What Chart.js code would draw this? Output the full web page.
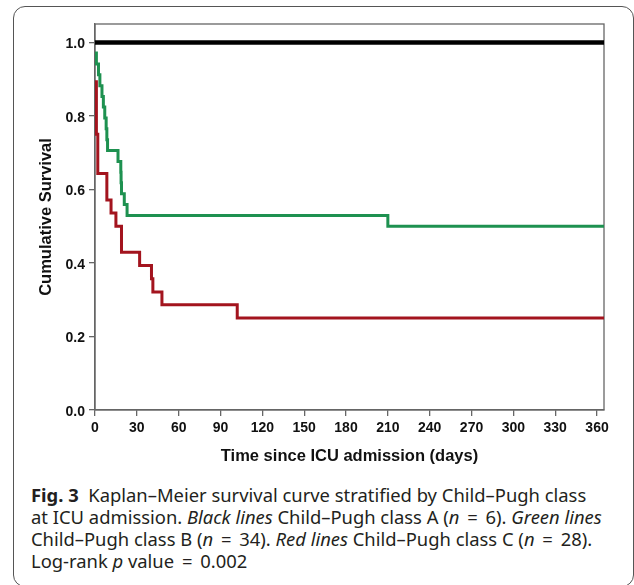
<!DOCTYPE html>
<html>
<head>
<meta charset="utf-8">
<script src="https://cdn.jsdelivr.net/npm/chart.js@4"></script>
<style>
  body { margin: 0; background: #fff; }
  #wrap { position: relative; width: 634px; height: 585px; overflow: hidden; background: #fff; }
  #box { position: absolute; left: 13px; top: 6px; width: 619px; height: 579px; border: 1px solid #555; border-radius: 12px; }
  #chartBox { position: absolute; left: 0; top: 0; width: 634px; height: 470px; }
  #caption { position: absolute; left: 31px; top: 484px; font-family: "Noto Sans", sans-serif; font-size: 18.4px; line-height: 22px; color: #231f20; white-space: nowrap; }
  #caption .eq { margin: 0 3px; }
</style>
</head>
<body>
<div id="wrap">
  <div id="box"></div>
  <div id="chartBox"><canvas id="kmChart" width="634" height="470"></canvas></div>
  <div id="caption">
    <b>Fig. 3</b>&nbsp; Kaplan–Meier survival curve stratified by Child–Pugh class<br>
    at ICU admission. <i>Black lines</i> Child–Pugh class A (<i>n</i> <span class="eq">=</span> 6). <i>Green lines</i><br>
    Child–Pugh class B (<i>n</i> <span class="eq">=</span> 34). <i>Red lines</i> Child–Pugh class C (<i>n</i> <span class="eq">=</span> 28).<br>
    Log-rank <i>p</i> value <span class="eq">=</span> 0.002
  </div>
</div>
<script>
// tick labels
const xTicks = [0, 30, 60, 90, 120, 150, 180, 210, 240, 270, 300, 330, 360];
const yTicks = [0, 0.2, 0.4, 0.6, 0.8, 1.0];

// Child-Pugh A (black)
const blackTimes = [0, 365];
const blackSurv = [1.0, 1.0];

// Child-Pugh B (green)
const greenTimes = [0, 1, 2.5, 3.5, 5, 6, 7, 8, 8.5, 9, 16.5, 18.5, 18.7, 19, 21, 23, 210, 365];
const greenSurv = [0.971, 0.941, 0.912, 0.882, 0.853, 0.824, 0.794, 0.765, 0.735, 0.706, 0.676, 0.647, 0.618, 0.588, 0.559, 0.529, 0.5, 0.5];

// Child-Pugh C (red)
const redTimes = [0, 1, 2, 8.5, 11.5, 15, 19, 32, 40.5, 41.5, 48, 102, 365];
const redSurv = [0.893, 0.75, 0.643, 0.571, 0.536, 0.5, 0.429, 0.393, 0.357, 0.321, 0.286, 0.25, 0.25];

function toPoints(t, s) {
  return t.map((x, i) => ({ x: x, y: s[i] }));
}

const axisColor = '#666';
const tickFont = { family: 'Liberation Sans', size: 14, weight: 'bold' };
const titleFont = { family: 'Liberation Sans', size: 16.5, weight: 'bold' };

// box round the plot area
const framePlugin = {
  id: 'frame',
  beforeDatasetsDraw(chart) {
    const a = chart.chartArea;
    const ctx = chart.ctx;
    ctx.save();
    ctx.strokeStyle = axisColor;
    ctx.lineWidth = 1.3;
    ctx.strokeRect(a.left, a.top, a.right - a.left, a.bottom - a.top);
    ctx.restore();
  }
};

const kmChart = new Chart(document.getElementById('kmChart').getContext('2d'), {
  type: 'line',
  data: {
    datasets: [
      { label: 'A', data: toPoints(blackTimes, blackSurv), borderColor: '#000', borderWidth: 4.5 },
      { label: 'B', data: toPoints(greenTimes, greenSurv), borderColor: '#1e9150', borderWidth: 3 },
      { label: 'C', data: toPoints(redTimes, redSurv), borderColor: '#a3141e', borderWidth: 3 }
    ].map(d => Object.assign(d, { stepped: 'before', pointRadius: 0, fill: false, tension: 0 }))
  },
  options: {
    responsive: false,
    animation: false,
    devicePixelRatio: 1,
    layout: { padding: { top: 24, right: 30, left: 0, bottom: 0 } },
    plugins: { legend: { display: false }, tooltip: { enabled: false } },
    scales: {
      x: {
        type: 'linear',
        min: 0,
        max: 365,
        afterBuildTicks: s => { s.ticks = xTicks.map(v => ({ value: v })); },
        afterFit: s => { s.height = 60; },
        ticks: { font: tickFont, color: '#111', padding: 4, maxRotation: 0, autoSkip: false },
        grid: { drawOnChartArea: false, drawTicks: true, tickLength: 6, color: axisColor, lineWidth: 1.3 },
        border: { color: axisColor, width: 1.3 },
        title: {
          display: true,
          text: 'Time since ICU admission (days)',
          font: titleFont,
          color: '#111',
          padding: { top: 0, bottom: 3.6 }
        }
      },
      y: {
        min: 0,
        max: 1.05,
        afterBuildTicks: s => { s.ticks = yTicks.map(v => ({ value: v })); },
        afterFit: s => { s.width = 95; },
        ticks: { font: tickFont, color: '#111', padding: 4, labelOffset: 2, callback: v => v.toFixed(1) },
        grid: { drawOnChartArea: false, drawTicks: true, tickLength: 6, color: axisColor, lineWidth: 1.3 },
        border: { color: axisColor, width: 1.3 },
        title: {
          display: true,
          text: 'Cumulative Survival',
          font: titleFont,
          color: '#111',
          padding: { top: 37, bottom: 0 }
        }
      }
    }
  },
  plugins: [framePlugin]
});
</script>
</body>
</html>
